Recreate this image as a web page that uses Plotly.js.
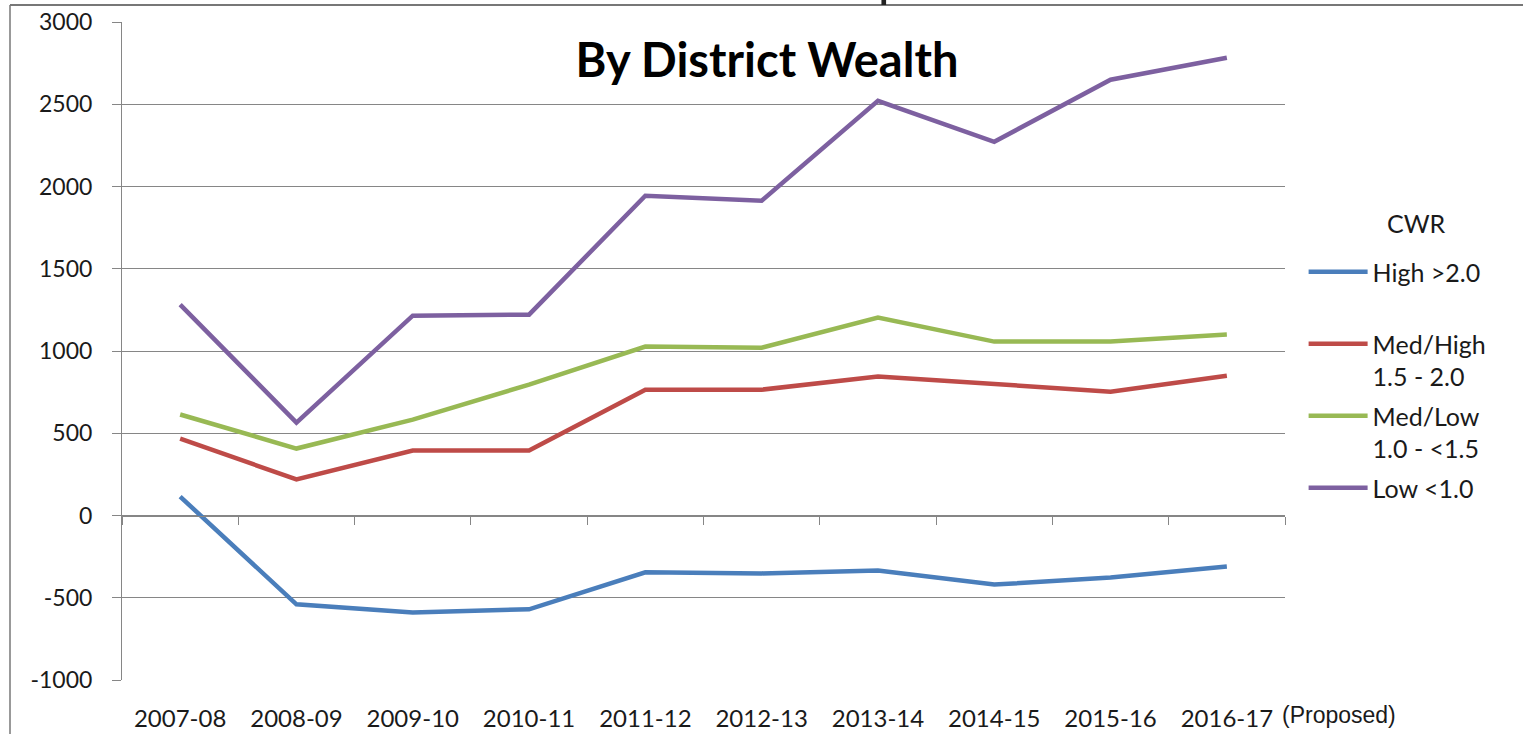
<!DOCTYPE html>
<html>
<head>
<meta charset="utf-8">
<script src="https://cdn.plot.ly/plotly-3.0.1.min.js"></script>
<style>html,body{margin:0;padding:0;background:#fff;}#chart{width:1523px;height:734px;}</style>
</head>
<body>
<div id="chart"></div>
<script>
const categories = ['2007-08','2008-09','2009-10','2010-11','2011-12','2012-13','2013-14','2014-15','2015-16','2016-17'];
const highValues    = [115, -540, -590, -570, -345, -352, -335, -420, -377, -310];
const medHighValues = [468, 219, 395, 395, 765, 765, 845, 800, 753, 850];
const medLowValues  = [614, 407, 583, 796, 1027, 1020, 1203, 1057, 1057, 1100];
const lowValues     = [1282, 565, 1215, 1221, 1944, 1914, 2521, 2272, 2649, 2783];
const seriesNames = ['High >2.0<br>&nbsp;', 'Med/High<br>1.5 - 2.0', 'Med/Low<br>1.0 - <1.5', 'Low <1.0'];
const seriesColors = ['#4A7EBB', '#BE4B48', '#98B954', '#7D60A0'];
const seriesValues = [highValues, medHighValues, medLowValues, lowValues];
const yTickValues = [-1000, -500, 0, 500, 1000, 1500, 2000, 2500, 3000];
const yTickLabels = ['-1000', '-500', '0', '500', '1000', '1500', '2000', '2500', '3000'];
const chartTitle = 'By District Wealth';
const legendTitle = 'CWR';
const lastNote = '(Proposed)';

const FONT = 'Lato, "Open Sans", sans-serif';
const traces = seriesValues.map((vals, i) => ({
  type: 'scatter', mode: 'lines', x: categories, y: vals, name: seriesNames[i],
  line: {color: seriesColors[i], width: 4.5}, legendgroup: 'g' + i
}));
// invisible trace that carries the zero-line category axis (tick marks)
traces.push({type: 'scatter', mode: 'lines', x: categories, y: lowValues, xaxis: 'x2',
  line: {color: 'rgba(0,0,0,0)', width: 0}, showlegend: false, hoverinfo: 'skip'});

const layout = {
  width: 1523, height: 734,
  margin: {l: 122, r: 238, t: 22, b: 54},
  paper_bgcolor: '#fff', plot_bgcolor: '#fff',
  font: {family: FONT, color: '#1a1a1a'},
  showlegend: true,
  title: {text: '<b>' + chartTitle + '</b>', font: {family: FONT, size: 47, color: '#000'},
    xref: 'paper', x: 0.5546, xanchor: 'center', yref: 'container', y: 0.918, yanchor: 'middle'},
  xaxis: {type: 'category', range: [-0.5, 9.5], showgrid: false, zeroline: false, showline: false,
    ticks: 'outside', ticklen: 17, tickcolor: 'rgba(0,0,0,0)', tickfont: {family: FONT, size: 24, color: '#1a1a1a'}},
  xaxis2: {type: 'category', overlaying: 'x', anchor: 'free', position: 0.25, range: [-0.5, 9.5],
    showgrid: false, zeroline: false, showline: true, linecolor: '#868686', linewidth: 1,
    ticks: 'outside', tickson: 'boundaries', ticklen: 8, tickcolor: '#868686', showticklabels: false},
  yaxis: {range: [-1000, 3000], tickmode: 'array', tickvals: yTickValues, ticktext: yTickLabels,
    showgrid: true, gridcolor: '#868686', gridwidth: 1,
    zeroline: false, showline: true, linecolor: '#868686', linewidth: 1,
    ticks: 'outside', ticklen: 9, tickcolor: '#868686', ticklabelstandoff: 15,
    tickfont: {family: FONT, size: 23, color: '#1a1a1a'}},
  legend: {x: 1.0160, xanchor: 'left', y: 0.655, yanchor: 'top', valign: 'top', itemwidth: 59,
    font: {family: FONT, size: 25, color: '#1a1a1a'}, tracegroupgap: 4, bgcolor: 'rgba(0,0,0,0)'},
  annotations: [
    {text: lastNote, xref: 'paper', yref: 'paper', x: 0.996, y: -0.053, xanchor: 'left', yanchor: 'middle',
      showarrow: false, font: {family: '"Liberation Sans", Arial, sans-serif', size: 23, color: '#1a1a1a'}},
    {text: legendTitle, xref: 'paper', yref: 'paper', x: (1416 - 122) / 1163, y: 1 - (223 - 22) / 658,
      xanchor: 'center', yanchor: 'middle', showarrow: false, font: {family: FONT, size: 25, color: '#1a1a1a'}}
  ],
  shapes: [
    {type: 'line', xref: 'paper', yref: 'paper', x0: -0.0963, x1: -0.0963, y0: 1.0258, y1: -0.09, line: {color: '#999', width: 2}},
    {type: 'line', xref: 'paper', yref: 'paper', x0: -0.0963, x1: 1.21, y0: 1.0258, y1: 1.0258, line: {color: '#777', width: 2}},
    {type: 'rect', xref: 'paper', yref: 'paper', x0: 0.653, x1: 0.657, y0: 1.0258, y1: 1.04, fillcolor: '#222', line: {width: 0}}
  ]
};
Plotly.newPlot('chart', traces, layout, {displayModeBar: false, responsive: false});
</script>
</body>
</html>
